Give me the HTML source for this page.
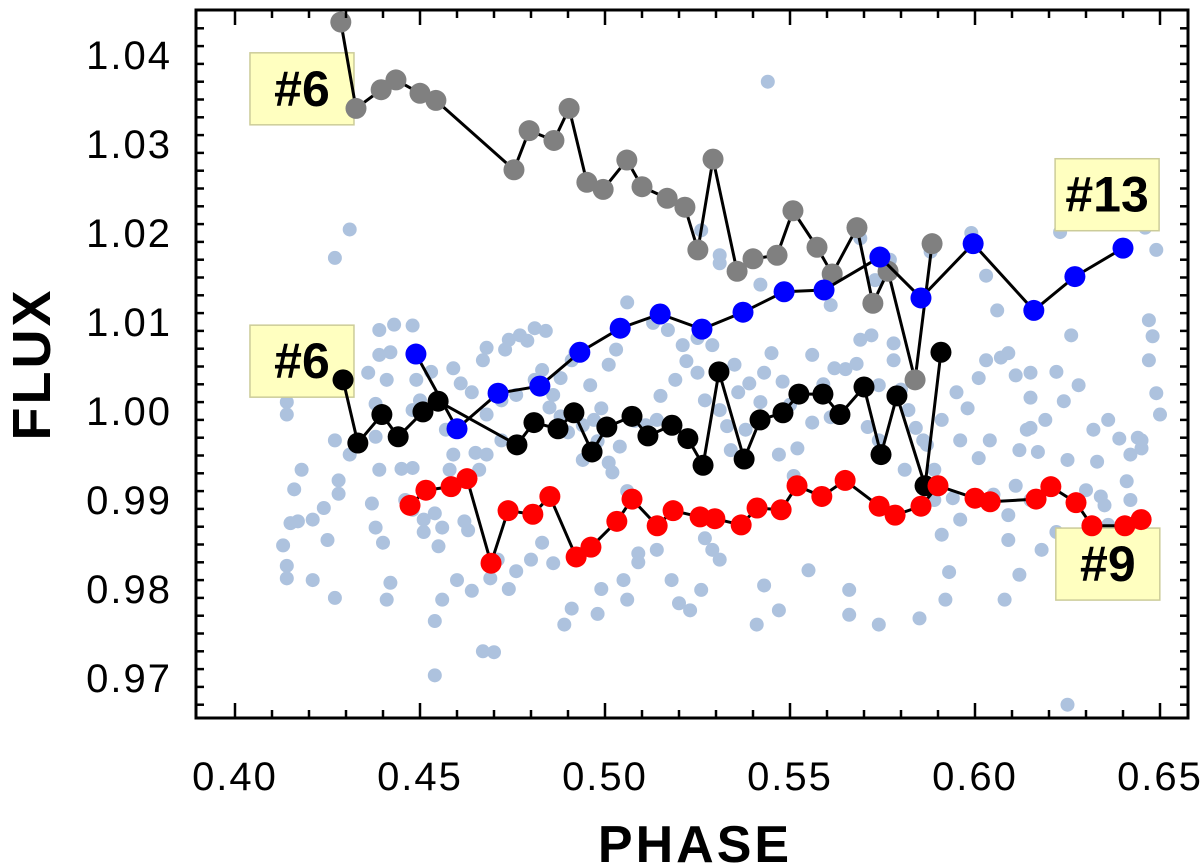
<!DOCTYPE html>
<html><head><meta charset="utf-8"><style>
html,body{margin:0;padding:0;background:#fff;}
svg{display:block;font-family:"Liberation Sans",Arial,sans-serif;}
</style></head><body>
<svg id="chart" width="1200" height="868" viewBox="0 0 1200 868" xmlns="http://www.w3.org/2000/svg"></svg>
<script>
const xTicks=[0.40,0.45,0.50,0.55,0.60,0.65];
const yTicks=[0.97,0.98,0.99,1.00,1.01,1.02,1.03,1.04];
const grayPhase=[0.4286,0.4327,0.4395,0.4435,0.4500,0.4543,0.4754,0.4795,0.4862,0.4903,0.4951,0.4995,0.5059,0.5100,0.5168,0.5216,0.5251,0.5292,0.5357,0.5400,0.5465,0.5508,0.5573,0.5614,0.5681,0.5724,0.5765,0.5838,0.5884];
const grayFlux=[1.0437,1.0340,1.0361,1.0372,1.0357,1.0349,1.0271,1.0315,1.0304,1.0340,1.0257,1.0249,1.0282,1.0252,1.0239,1.0229,1.0181,1.0283,1.0157,1.0171,1.0175,1.0225,1.0184,1.0154,1.0206,1.0121,1.0157,1.0035,1.0188];
const bluePhase=[0.4489,0.4600,0.4711,0.4824,0.4932,0.5041,0.5149,0.5262,0.5373,0.5484,0.5592,0.5743,0.5854,0.5995,0.6159,0.6270,0.6400];
const blueFlux=[1.0064,0.9980,1.0020,1.0028,1.0066,1.0093,1.0109,1.0092,1.0111,1.0134,1.0136,1.0173,1.0127,1.0188,1.0113,1.0151,1.0183];
const blackPhase=[0.4292,0.4332,0.4397,0.4441,0.4508,0.4549,0.4762,0.4808,0.4873,0.4916,0.4965,0.5005,0.5073,0.5116,0.5181,0.5224,0.5265,0.5308,0.5376,0.5419,0.5481,0.5524,0.5589,0.5635,0.5700,0.5746,0.5789,0.5865,0.5908];
const blackFlux=[1.0035,0.9964,0.9996,0.9971,0.9999,1.0011,0.9962,0.9987,0.9980,0.9998,0.9954,0.9982,0.9994,0.9972,0.9984,0.9969,0.9939,1.0044,0.9946,0.9990,0.9998,1.0019,1.0019,0.9996,1.0027,0.9951,1.0017,0.9916,1.0066];
const redPhase=[0.4473,0.4516,0.4584,0.4627,0.4692,0.4738,0.4805,0.4851,0.4922,0.4962,0.5032,0.5073,0.5141,0.5184,0.5257,0.5297,0.5368,0.5411,0.5476,0.5519,0.5586,0.5649,0.5741,0.5784,0.5854,0.5900,0.6000,0.6041,0.6165,0.6205,0.6273,0.6316,0.6405,0.6449];
const redFlux=[0.9894,0.9911,0.9915,0.9924,0.9829,0.9888,0.9884,0.9904,0.9836,0.9847,0.9876,0.9901,0.9871,0.9888,0.9881,0.9879,0.9872,0.9891,0.9889,0.9916,0.9904,0.9922,0.9893,0.9883,0.9893,0.9916,0.9902,0.9898,0.9901,0.9915,0.9897,0.9871,0.9871,0.9878];
const bgPhase=[0.427,0.431,0.416,0.414,0.414,0.418,0.415,0.417,0.413,0.414,0.414,0.421,0.425,0.424,0.427,0.421,0.428,0.428,0.431,0.427,0.436,0.439,0.441,0.443,0.448,0.448,0.439,0.442,0.438,0.438,0.439,0.437,0.438,0.440,0.442,0.448,0.445,0.446,0.448,0.451,0.451,0.456,0.455,0.456,0.454,0.460,0.464,0.462,0.465,0.459,0.463,0.466,0.468,0.472,0.473,0.474,0.468,0.467,0.477,0.479,0.481,0.484,0.483,0.488,0.486,0.491,0.492,0.496,0.498,0.501,0.502,0.506,0.508,0.504,0.508,0.511,0.514,0.515,0.519,0.522,0.525,0.529,0.527,0.531,0.533,0.534,0.538,0.542,0.543,0.545,0.548,0.550,0.547,0.551,0.552,0.556,0.559,0.562,0.565,0.568,0.569,0.572,0.574,0.578,0.578,0.580,0.582,0.584,0.587,0.589,0.589,0.591,0.593,0.594,0.596,0.598,0.601,0.603,0.607,0.609,0.611,0.615,0.615,0.619,0.622,0.624,0.626,0.628,0.632,0.633,0.634,0.635,0.636,0.638,0.641,0.642,0.644,0.645,0.648,0.647,0.643,0.646,0.649,0.628,0.623,0.615,0.603,0.606,0.599,0.577,0.573,0.561,0.542,0.531,0.544,0.526,0.531,0.569,0.588,0.608,0.612,0.609,0.609,0.605,0.611,0.618,0.622,0.625,0.628,0.612,0.614,0.604,0.601,0.596,0.592,0.585,0.574,0.566,0.566,0.555,0.547,0.543,0.541,0.531,0.529,0.527,0.526,0.523,0.520,0.518,0.514,0.509,0.505,0.499,0.498,0.491,0.489,0.506,0.509,0.486,0.483,0.480,0.476,0.474,0.471,0.469,0.467,0.470,0.454,0.441,0.451,0.454,0.463,0.458,0.457,0.450,0.449,0.453,0.459,0.461,0.464,0.468,0.472,0.476,0.481,0.485,0.488,0.490,0.494,0.494,0.497,0.499,0.501,0.503,0.506,0.513,0.517,0.521,0.525,0.535,0.536,0.539,0.556,0.561,0.571,0.574,0.581,0.586,0.591,0.595,0.615,0.617,0.636,0.639,0.642,0.649,0.650,0.625,0.615,0.630,0.647,0.645,0.625];
const bgFlux=[1.0172,1.0204,0.9912,1.0010,0.9996,0.9934,0.9874,0.9876,0.9849,0.9826,0.9812,0.9878,0.9855,0.9891,0.9790,0.9810,0.9922,0.9907,0.9951,0.9967,1.0043,1.0091,1.0035,1.0097,1.0096,1.0001,1.0063,1.0066,1.0008,0.9971,0.9934,0.9896,0.9869,0.9852,0.9807,0.9936,0.9935,0.9900,0.9889,0.9908,0.9864,0.9869,0.9848,0.9788,0.9764,0.9810,0.9798,0.9876,0.9953,0.9951,0.9921,0.9934,0.9951,0.9967,1.0069,1.0080,1.0071,1.0057,1.0085,1.0079,1.0093,1.0090,1.0046,1.0037,1.0018,1.0057,1.0066,1.0029,0.9966,0.9942,0.9931,0.9910,0.9903,0.9960,0.9989,0.9984,0.9990,1.0017,1.0035,1.0056,1.0082,1.0074,1.0012,1.0001,0.9983,0.9956,0.9979,1.0010,1.0043,1.0065,1.0033,1.0007,0.9951,0.9927,0.9958,0.9987,1.0030,1.0048,1.0047,1.0053,1.0080,1.0085,1.0029,1.0076,1.0057,1.0024,1.0001,0.9981,0.9962,0.9934,0.9900,0.9861,0.9819,0.9902,0.9967,1.0003,1.0037,1.0057,1.0060,1.0065,1.0040,1.0043,1.0015,0.9990,1.0044,1.0011,1.0085,1.0029,0.9979,0.9943,0.9904,0.9894,0.9872,0.9846,0.9921,0.9900,0.9970,0.9958,1.0084,1.0057,1.0237,1.0206,1.0181,1.0263,1.0201,1.0113,1.0152,1.0113,1.0200,1.0170,1.0147,1.0119,1.0142,1.0166,1.0370,1.0203,1.0175,1.0194,1.0179,0.9788,0.9816,0.9855,0.9883,0.9906,0.9916,0.9844,0.9864,0.9796,0.9816,0.9956,0.9979,0.9967,0.9947,0.9878,0.9788,0.9767,0.9760,0.9771,0.9799,0.9821,0.9776,0.9804,0.9760,0.9833,0.9844,0.9857,0.9799,0.9776,0.9784,0.9810,0.9844,0.9840,0.9810,0.9800,0.9772,0.9778,0.9760,0.9788,0.9830,0.9829,0.9852,0.9833,0.9820,0.9800,0.9833,0.9812,0.9730,0.9729,0.9703,0.9788,0.9878,0.9885,0.9866,0.9934,0.9979,1.0012,1.0035,1.0044,1.0048,1.0031,1.0021,0.9996,1.0012,1.0018,1.0035,1.0004,0.9994,0.9976,0.9984,0.9945,0.9990,1.0003,1.0052,1.0069,1.0122,1.0099,1.0091,1.0074,1.0043,1.0052,1.0021,1.0031,1.0063,0.9993,0.9982,0.9967,0.9934,0.9967,0.9990,1.0021,0.9981,0.9954,0.9990,0.9969,0.9951,1.0020,0.9996,0.9945,0.9900,0.9911,1.0102,0.9967,0.9670];
const annLabels=["#6","#6","#13","#9"];
const annPhase=[0.4181,0.4181,0.6357,0.6359];
const annFlux=[1.0362,1.0056,1.0243,0.9828];

const NS="http://www.w3.org/2000/svg";
const svg=document.getElementById('chart');
const L=196,T=10,R=1188,B=718;
const sx=p=>235+(p-0.40)*3700;
const sy=f=>411-(f-1.0)*8900;
function mk(tag,attrs,parent){const e=document.createElementNS(NS,tag);for(const k in attrs)e.setAttribute(k,attrs[k]);(parent||svg).appendChild(e);return e;}

const clip=mk('clipPath',{id:'pc'});mk('rect',{x:L,y:T,width:R-L,height:B-T},clip);
const plot=mk('g',{'clip-path':'url(#pc)'});



const bgG=mk('g',{fill:'#adc2de'},plot);


for(let i=0;i<bgPhase.length;i++){
  const c=mk('circle',{cx:sx(bgPhase[i]),cy:sy(bgFlux[i]),r:7},bgG);
  
  
}

for(let i=0;i<annLabels.length;i++){
  const g=mk('g',{},plot);
  
  
  const cx=sx(annPhase[i]),cy=sy(annFlux[i]);
  const w=104,h=72;
  mk('rect',{x:cx-w/2,y:cy-h/2,width:w,height:h,fill:'#ffffc0',stroke:'#cccc99','stroke-width':1.5},g);
  const t=mk('text',{x:cx,y:cy+17,'text-anchor':'middle','font-size':50,'font-weight':'bold',fill:'#000'},g);
  t.textContent=annLabels[i];
}

function series(ph,fl,color,name){
  const g=mk('g',{},plot);
  
  
  const pts=ph.map((p,i)=>sx(p)+','+sy(fl[i])).join(' ');
  const pl=mk('polyline',{points:pts,fill:'none',stroke:'#000','stroke-width':3,'stroke-linejoin':'round'},g);
  
  
  for(let i=0;i<ph.length;i++){
    const c=mk('circle',{cx:sx(ph[i]),cy:sy(fl[i]),r:10.5,fill:color},g);
    
    
  }
}
series(grayPhase,grayFlux,'#808080','gray-series');
series(bluePhase,blueFlux,'#0000ff','blue-series');
series(blackPhase,blackFlux,'#000000','black-series');
series(redPhase,redFlux,'#ff0000','red-series');

const fr=mk('rect',{x:L,y:T,width:R-L,height:B-T,fill:'none',stroke:'#000','stroke-width':3});



const tg=mk('g',{stroke:'#000','stroke-width':2.5});


for(let k=0;k<=28;k++){
  const p=0.39+k*0.01, x=sx(p); if(x<=L+2||x>=R-2)continue;
  const major=Math.abs(Math.round(p*100)%5)===0; const len=major?15:8;
  mk('line',{x1:x,y1:B,x2:x,y2:B-len},tg);mk('line',{x1:x,y1:T,x2:x,y2:T+len},tg);
}
for(let k=0;k<=45;k++){
  const f=0.965+k*0.002, y=sy(f); if(y<=T+2||y>=B-2)continue;
  const major=Math.abs(Math.round(f*1000)%10)===0; const len=major?15:8;
  mk('line',{x1:L,y1:y,x2:L+len,y2:y},tg);mk('line',{x1:R,y1:y,x2:R-len,y2:y},tg);
}
xTicks.forEach(v=>{const t=mk('text',{x:sx(v),y:790,'text-anchor':'middle','font-size':40,'letter-spacing':2,fill:'#000'});t.textContent=v.toFixed(2);
  });
yTicks.forEach(v=>{const t=mk('text',{x:172,y:sy(v)+14,'text-anchor':'end','font-size':40,'letter-spacing':2,fill:'#000'});t.textContent=v.toFixed(2);
  });
const xt=mk('text',{x:695,y:862,'text-anchor':'middle','font-size':52,'font-weight':'bold','letter-spacing':3,fill:'#000'});xt.textContent='PHASE';

const yt=mk('text',{x:0,y:0,transform:'translate(50,364) rotate(-90)','text-anchor':'middle','font-size':54,'font-weight':'bold','letter-spacing':3,fill:'#000'});yt.textContent='FLUX';

</script>
</body></html>
